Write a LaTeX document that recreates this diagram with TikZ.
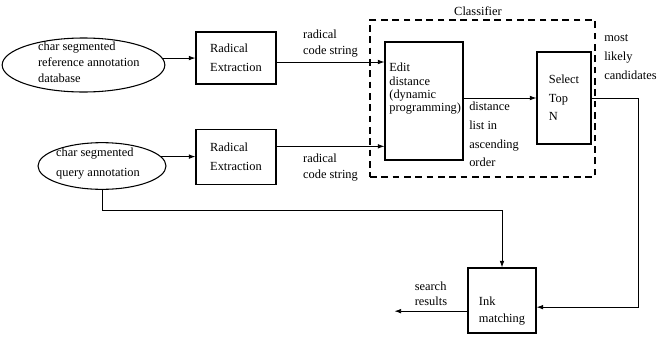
\documentclass[tikz,border=0pt]{standalone}
\usepackage{fontspec}
\setmainfont{Liberation Serif}
\usetikzlibrary{arrows.meta,shapes.geometric}
\begin{document}
\begin{tikzpicture}[x=0.75pt,y=-0.75pt,
  font=\fontsize{9.3}{14}\selectfont,
  box/.style={draw,line width=0.8pt,align=left,inner sep=0pt},
  src/.style={draw,ellipse,line width=0.8pt,inner sep=0pt},
  lbl/.style={align=left,inner sep=0pt},
  arr/.style={-{Latex[length=5pt,width=3.5pt]},line width=0.6pt}]
  \useasboundingbox (0,0) rectangle (660,336);
  \node[src,minimum width=122pt,minimum height=40.5pt] (refdb) at (83.5,65) {};
  \node[lbl] (refdbtxt) at ([xshift=4pt,yshift=2pt]refdb) {char segmented\\[-2pt]reference annotation\\[-2pt]database};
  \node[src,minimum width=96pt,minimum height=35pt] (query) at (102,166) {};
  \node[lbl] (querytxt) at ([xshift=-3pt,yshift=2pt]query) {char segmented\\[1pt]query annotation};
  \node[box,minimum width=60pt,minimum height=39pt] (rad1) at (236,58) {Radical\\Extraction};
  \node[box,minimum width=60pt,minimum height=41pt] (rad2) at (236,157) {Radical\\Extraction};
  \node[draw,dashed,dash pattern=on 5pt off 3.5pt,line width=0.8pt,inner sep=0pt,
        minimum width=168.75pt,minimum height=117.75pt] (clf) at (482.5,98.5) {};
  \node (clflbl) at (478,11) {Classifier};
  \node[box,minimum width=58.5pt,minimum height=88.5pt] (edit) at (424,101) {};
  \node[lbl,anchor=north west] (edittxt) at ([xshift=3.5pt,yshift=-16pt]edit.north west)
    {Edit\\[-4pt]distance\\[-4pt](dynamic\\[-4pt]programming)};
  \node[box,minimum width=40.5pt,minimum height=69pt] (select) at (564,98) {Select\\Top\\N};
  \node[box,minimum width=51pt,minimum height=48.75pt] (ink) at (502,300.5) {};
  \node[lbl] (inktxt) at ([yshift=-8pt]ink) {Ink\\[-1pt]matching};

  \draw[arr] (refdb.5) -- (refdb.5 -| rad1.west);
  \draw[arr] (query.9) -- (query.9 -| rad2.west);
  \draw[arr] ([yshift=-3pt]rad1.east) -- ([yshift=-3pt]rad1.east -| edit.west)
    node[lbl,midway,above=3pt] (code1) {radical\\[-2pt]code string};
  \draw[arr] ([yshift=8pt]rad2.east) -- ([yshift=8pt]rad2.east -| edit.west)
    node[lbl,midway,below=5pt] (code2) {radical\\[-2pt]code string};
  \draw[arr] (edit.east |- select.west) -- (select.west);
  \node[lbl,anchor=north west] (dlist) at (469,102) {distance\\list in\\ascending\\order};
  \draw[arr] (select.east) -- ++(47,0) |- ([yshift=-5pt]ink.east);
  \node[lbl,anchor=west] (cands) at (604,57) {most\\likely\\candidates};
  \draw[arr] (query.south) -- ++(0,21) -| (ink.north);
  \draw[arr] ([yshift=-8pt]ink.west) -- ++(-73,0) coordinate (res)
    node[lbl,midway,above=4pt] (reslbl) {search\\[-3pt]results};
\end{tikzpicture}
\end{document}
